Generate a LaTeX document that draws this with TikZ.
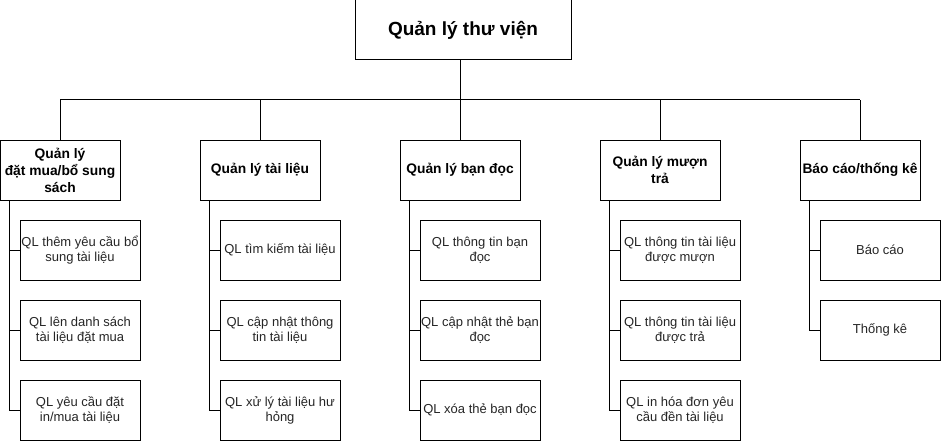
\documentclass[tikz,border=0pt]{standalone}
\usepackage{fontspec}
\setmainfont{Liberation Sans}
\begin{document}
\begin{tikzpicture}[x=1pt,y=-1pt,line width=1pt,
  box/.style={draw=black,fill=white,minimum width=120pt,minimum height=60pt,align=center,inner sep=0pt,font=\fontsize{13}{15}\selectfont,text=black!85},
  head/.style={box,font=\bfseries\fontsize{13.8}{17}\selectfont,text=black},
  topbox/.style={box,minimum width=216pt,minimum height=60pt,font=\bfseries\fontsize{19}{22}\selectfont,text=black},
  link/.style={draw=black,line width=1pt}]
\useasboundingbox (0,0) rectangle (941,441);
\node[topbox] (top) at (463,30) {Quản lý thư viện};
\node[head] (h1) at (60,170) {Quản lý\\đặt mua/bổ sung\\sách};
\node[head] (h2) at (260,170) {Quản lý tài liệu};
\node[head] (h3) at (460,170) {Quản lý bạn đọc};
\node[head] (h4) at (660,170) {Quản lý mượn\\trả};
\node[head] (h5) at (860,170) {Báo cáo/thống kê};
\coordinate (bus) at (460,100);
\draw[link] (top.south -| bus) -- (bus);
\foreach \h in {h1,h2,h3,h4,h5}{
  \draw[link] (\h.north) -- (\h.north |- bus);
}
\draw[link] (h1.north |- bus) -- (h5.north |- bus);
% children
\node[box] (c11) at (80,250) {QL thêm yêu cầu bổ\\sung tài liệu};
\node[box] (c12) at (80,330) {QL lên danh sách\\tài liệu đặt mua};
\node[box] (c13) at (80,410) {QL yêu cầu đặt\\in/mua tài liệu};
\node[box] (c21) at (280,250) {QL tìm kiếm tài liệu};
\node[box] (c22) at (280,330) {QL cập nhật thông\\tin tài liệu};
\node[box] (c23) at (280,410) {QL xử lý tài liệu hư\\hỏng};
\node[box] (c31) at (480,250) {QL thông tin bạn\\đọc};
\node[box] (c32) at (480,330) {QL cập nhật thẻ bạn\\đọc};
\node[box] (c33) at (480,410) {QL xóa thẻ bạn đọc};
\node[box] (c41) at (680,250) {QL thông tin tài liệu\\được mượn};
\node[box] (c42) at (680,330) {QL thông tin tài liệu\\được trả};
\node[box] (c43) at (680,410) {QL in hóa đơn yêu\\cầu đền tài liệu};
\node[box] (c51) at (880,250) {Báo cáo};
\node[box] (c52) at (880,330) {Thống kê};
\foreach \h/\c in {h1/c11,h1/c12,h1/c13,h2/c21,h2/c22,h2/c23,h3/c31,h3/c32,h3/c33,h4/c41,h4/c42,h4/c43,h5/c51,h5/c52}{
  \draw[link] ([xshift=10pt]\h.south west) |- (\c.west);
}
\end{tikzpicture}
\end{document}
